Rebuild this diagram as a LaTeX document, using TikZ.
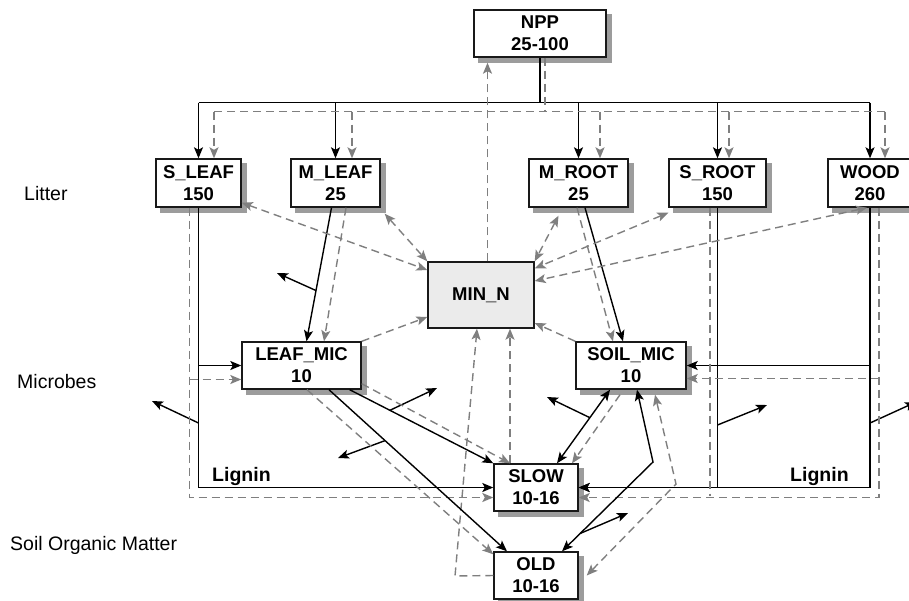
\documentclass[tikz,border=0pt]{standalone}
\usepackage{fontspec}
\setmainfont{Liberation Sans}
\usepackage{tikz}
\usetikzlibrary{arrows.meta,backgrounds}
\definecolor{ngray}{HTML}{7F7F7F}
\definecolor{shadowgray}{HTML}{9C9C9C}
\definecolor{minfill}{HTML}{EBEBEB}
\tikzset{
  >={Stealth[length=11pt,width=9pt,inset=2.5pt]},
  pool/.style={draw=black!90,fill=white,line width=1.4pt,align=center,inner sep=0pt,minimum height=47pt,font=\fontsize{18.5}{22}\selectfont\bfseries},
  minpool/.style={draw=black!90,fill=minfill,line width=1.4pt,inner sep=0pt,font=\fontsize{18.5}{22}\selectfont\bfseries},
  poolshadow/.style={fill=shadowgray},
  cline/.style={line width=1.4pt,black},
  cflow/.style={cline,->},
  cboth/.style={cline,<->},
  nline/.style={line width=1.4pt,ngray,dash pattern=on 8pt off 5pt},
  nflow/.style={nline,->},
  nboth/.style={nline,<->},
  layer/.style={font=\fontsize{19.5}{22}\selectfont,anchor=base west,inner sep=0pt},
  lig/.style={font=\fontsize{19.5}{22}\selectfont\bfseries,anchor=base west,inner sep=0pt},
}
\begin{document}
\begin{tikzpicture}[x=1pt,y=-1pt]
\useasboundingbox (0,0) rectangle (909,600);
% pools
\node[pool,minimum width=132pt] (npp) at (540,33.5) {NPP\\25-100};
\node[pool,minimum width=85pt,minimum height=48pt] (sleaf) at (198.5,183) {S\_LEAF\\150};
\node[pool,minimum width=89pt,minimum height=48pt] (mleaf) at (335.5,183) {M\_LEAF\\25};
\node[pool,minimum width=99pt,minimum height=48pt] (mroot) at (578.5,183) {M\_ROOT\\25};
\node[pool,minimum width=97pt,minimum height=48pt] (sroot) at (717.5,183) {S\_ROOT\\150};
\node[pool,minimum width=84pt,minimum height=48pt] (wood) at (870,183) {WOOD\\260};
\node[minpool,minimum width=106pt,minimum height=66pt] (minn) at (481,295) {MIN\_N};
\node[pool,minimum width=119pt] (leafmic) at (301.5,365.5) {LEAF\_MIC\\10};
\node[pool,minimum width=110pt] (soilmic) at (631,365.5) {SOIL\_MIC\\10};
\node[pool,minimum width=84pt] (slow) at (536,487.5) {SLOW\\10-16};
\node[pool,minimum width=84pt] (old) at (536,575.5) {OLD\\10-16};
% shadows behind the pools
\begin{scope}[on background layer]
\foreach \p in {npp,sleaf,mleaf,mroot,sroot,wood,leafmic,soilmic,slow,old}
  \fill[poolshadow] ([xshift=5pt,yshift=-5pt]\p.south west) rectangle ([xshift=5pt,yshift=-5pt]\p.north east);
\end{scope}
% layer names
\node[layer] (litter) at (24,200) {Litter};
\node[layer] (microbes) at (17,388) {Microbes};
\node[layer] (som) at (10,550) {Soil Organic Matter};
\node[lig] (ligl) at (212,481) {Lignin};
\node[lig] (ligr) at (790,481) {Lignin};
% helper points
\coordinate (r1) at (198.5,423); \coordinate (c1) at (152,401);
\coordinate (c2) at (277,273);
\coordinate (c3) at (437,388);
\coordinate (c4) at (338,458);
\coordinate (c5) at (547,397);
\coordinate (c6) at (628,513);
\coordinate (r7) at (717.5,425); \coordinate (c7) at (767,405);
\coordinate (r8) at (870,423); \coordinate (c8) at (916,402);
\coordinate (oldbend) at (455,576);
\coordinate (sobend) at (653,462);
\coordinate (sobendn) at (676,484);
% NPP split to litter
\draw[cline] (npp.south) -- ++(0,45) coordinate (sj);
\draw[cline] (sleaf.north |- sj) -- (wood.north |- sj);
\foreach \p in {sleaf,mleaf,mroot,sroot,wood}
  \draw[cflow] (\p.north |- sj) -- (\p.north);
\draw[nline] ([xshift=5pt]npp.south) -- ++(0,54) coordinate (dj);
\draw[nline] ([xshift=15.5pt]sleaf.north |- dj) -- ([xshift=15pt]wood.north |- dj);
\foreach \p/\d in {sleaf/15.5,mleaf/16.5,mroot/21.5,sroot/11.5,wood/15}
  \draw[nflow] ([xshift=\d pt]\p.north |- dj) -- ([xshift=\d pt]\p.north);
\draw[nflow,shorten >=5pt] ([xshift=6.5pt]minn.north) -- ([xshift=6.5pt]minn.north |- npp.south);
% left: leaf litter
\draw[cflow] (sleaf.south) |- (slow.west);
\draw[cflow] (sleaf.south |- leafmic.west) -- (leafmic.west);
\draw[cflow] (r1) -- (c1);
\draw[nflow] ([xshift=-9pt]sleaf.south) |- ([yshift=-10pt]slow.west);
\draw[nflow] ([xshift=-9pt,yshift=-14pt]sleaf.south |- leafmic.west) -- ([yshift=-14pt]leafmic.west);
\draw[cflow] ([xshift=-4pt]mleaf.south) -- ([xshift=5pt]leafmic.north) coordinate[pos=0.62] (r2);
\draw[cflow] (r2) -- (c2);
\draw[nflow] ([xshift=10.5pt]mleaf.south) -- ([xshift=22.5pt]leafmic.north);
% right: root and wood litter
\draw[cflow] ([xshift=6.5pt]mroot.south) -- ([xshift=-8pt]soilmic.north);
\draw[nflow] ([xshift=-1.5pt]mroot.south) -- ([xshift=-18pt]soilmic.north);
\draw[cflow] (sroot.south) |- (slow.east);
\draw[cflow] (wood.south) |- (slow.east);
\draw[cflow] (wood.south |- soilmic.east) -- (soilmic.east);
\draw[cflow] (r7) -- (c7);
\draw[cflow] (r8) -- (c8);
\draw[nline] ([xshift=-7.5pt]sroot.south) -- ([xshift=-7.5pt,yshift=-8pt]sroot.south |- slow.east);
\draw[nflow] ([xshift=9pt]wood.south) |- ([yshift=-10pt]slow.east);
\draw[nflow] ([xshift=9pt,yshift=-13pt]wood.south |- soilmic.east) -- ([yshift=-13pt]soilmic.east);
% exchange with MIN_N
\draw[nboth] ([yshift=5pt]sleaf.south east) -- ([yshift=25pt]minn.west);
\draw[nboth] ([xshift=4pt,yshift=-6pt]mleaf.south east) -- (minn.north west);
\draw[nflow] (leafmic.north east) -- ([yshift=-22pt]minn.west);
\draw[nboth] ([xshift=-20pt,yshift=-8pt]mroot.south) -- (minn.north east);
\draw[nboth] ([yshift=-5pt]sroot.south west) -- ([yshift=-7pt]minn.north east);
\draw[nboth] ([xshift=-3pt]wood.south) -- ([yshift=14pt]minn.east);
\draw[nflow] (soilmic.north west) -- ([yshift=-28pt]minn.east);
\draw[nflow] ([xshift=-26pt]slow.north) -- ([xshift=29pt]minn.south);
\draw[nflow] (old.west) -- (oldbend) -- ([xshift=-4pt]minn.south);
% microbes to soil organic matter
\draw[cflow] ([xshift=-12pt]leafmic.south east) -- (slow.north west) coordinate[pos=0.28] (r3);
\draw[cflow] (r3) -- (c3);
\draw[nflow] ([yshift=6pt]leafmic.south east) -- ([xshift=-26pt]slow.north);
\draw[cflow] ([xshift=27.5pt]leafmic.south) -- ([xshift=-29pt]old.north) coordinate[pos=0.315] (r4);
\draw[cflow] (r4) -- (c4);
\draw[nflow] ([xshift=5.5pt]leafmic.south) -- ([yshift=-3pt]old.north west);
\draw[cboth] ([xshift=-21pt]soilmic.south) -- ([xshift=21pt]slow.north) coordinate[pos=0.38] (r5);
\draw[cflow] (r5) -- (c5);
\draw[nflow] ([xshift=-11pt,yshift=-5pt]soilmic.south) -- ([xshift=36pt]slow.north);
\draw[cboth] ([xshift=26pt]old.north) -- (sobend) coordinate[pos=0.2] (r6) -- ([xshift=6pt]soilmic.south);
\draw[cflow] (r6) -- (c6);
\draw[nboth] ([xshift=8pt]old.east) -- (sobendn) -- ([xshift=24pt,yshift=-5pt]soilmic.south);
\end{tikzpicture}
\end{document}
